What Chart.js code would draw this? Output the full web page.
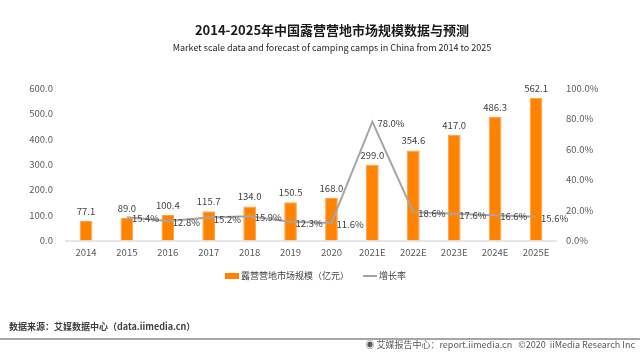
<!DOCTYPE html>
<html>
<head>
<meta charset="utf-8">
<script src="https://cdn.jsdelivr.net/npm/chart.js@4"></script>
<style>
  html,body{margin:0;padding:0;background:#fff;}
  #wrap{position:relative;width:640px;height:353px;overflow:hidden;font-family:"Noto Sans CJK SC","Noto Sans",sans-serif;}
  #c{position:absolute;left:0;top:0;}
  #legend{position:absolute;left:0;top:268px;width:640px;height:16px;font-size:9px;color:#404040;}
  .lg{position:absolute;top:0;line-height:16px;white-space:nowrap;}
  .sw{position:absolute;}
  #src{position:absolute;left:9px;top:320px;font-size:9px;color:#404040;font-weight:bold;white-space:nowrap;}
  #rule{position:absolute;left:0;top:338px;width:640px;height:2px;background:#a6a6a6;}
  #foot{position:absolute;right:5px;top:338px;font-size:9px;color:#595959;white-space:nowrap;}
</style>
</head>
<body>
<div id="wrap">
  <canvas id="c" width="640" height="353"></canvas>
  <div id="legend">
    <div class="sw" style="left:225px;top:5px;width:14px;height:6px;background:#FF8200;"></div>
    <div class="lg" id="lg0" style="left:241px;"></div>
    <div class="sw" style="left:363px;top:7px;width:14px;height:2px;background:#A5A5A5;"></div>
    <div class="lg" id="lg1" style="left:379px;"></div>
  </div>
  <div id="src">数据来源：艾媒数据中心（data.iimedia.cn）</div>
  <div id="rule"></div>
  <div id="foot">&#9673; 艾媒报告中心：report.iimedia.cn &nbsp;&nbsp;©2020 &nbsp;iiMedia Research Inc</div>
</div>
<script>
const categories = ["2014","2015","2016","2017","2018","2019","2020","2021E","2022E","2023E","2024E","2025E"];
const marketSize = [77.1, 89.0, 100.4, 115.7, 134.0, 150.5, 168.0, 299.0, 354.6, 417.0, 486.3, 562.1];
const growthRate = [null, 15.4, 12.8, 15.2, 15.9, 12.3, 11.6, 78.0, 18.6, 17.6, 16.6, 15.6];
const leftTicks = [0, 100, 200, 300, 400, 500, 600];
const rightTicks = [0, 20, 40, 60, 80, 100];
const seriesNames = ["露营营地市场规模（亿元）", "增长率"];

document.getElementById('lg0').textContent = seriesNames[0];
document.getElementById('lg1').textContent = seriesNames[1];

const FONT = '"Noto Sans CJK SC","Noto Sans",sans-serif';

const labelPlugin = {
  id: 'valueLabels',
  afterDatasetsDraw(chart) {
    const ctx = chart.ctx;
    ctx.save();
    ctx.font = '9.5px ' + FONT;
    ctx.fillStyle = '#404040';
    const barMeta = chart.getDatasetMeta(0);
    ctx.textAlign = 'center';
    ctx.textBaseline = 'bottom';
    barMeta.data.forEach((el, i) => {
      ctx.fillText(marketSize[i].toFixed(1), el.x, el.y - 5);
    });
    const lineMeta = chart.getDatasetMeta(1);
    ctx.textAlign = 'left';
    ctx.textBaseline = 'middle';
    lineMeta.data.forEach((el, i) => {
      if (growthRate[i] == null) return;
      ctx.fillText(growthRate[i].toFixed(1) + '%', el.x + 5, el.y + 1.5);
    });
    ctx.restore();
  }
};

new Chart(document.getElementById('c'), {
  data: {
    labels: categories,
    datasets: [
      {
        type: 'bar',
        label: seriesNames[0],
        data: marketSize,
        backgroundColor: '#FF8200',
        borderColor: '#FFA040',
        borderWidth: {top:1,left:1,right:1,bottom:0},
        categoryPercentage: 1,
        barPercentage: 0.31,
        yAxisID: 'y',
        order: 2
      },
      {
        type: 'line',
        label: seriesNames[1],
        data: growthRate,
        borderColor: '#A5A5A5',
        backgroundColor: '#A5A5A5',
        borderWidth: 2,
        pointRadius: 0,
        tension: 0,
        yAxisID: 'y1',
        order: 1
      }
    ]
  },
  options: {
    responsive: false,
    animation: false,
    devicePixelRatio: 1,
    layout: { padding: { top: 22, left: 24, right: 0, bottom: 89 } },
    plugins: {
      title: {
        display: true,
        text: '2014-2025年中国露营营地市场规模数据与预测',
        color: '#1a1a1a',
        font: { family: FONT, size: 13, weight: 'bold' },
        padding: { top: 0, bottom: 4.8 }
      },
      subtitle: {
        display: true,
        text: 'Market scale data and forecast of camping camps in China from 2014 to 2025',
        color: '#262626',
        font: { family: FONT, size: 9 },
        padding: { top: 0, bottom: 35 }
      },
      legend: { display: false },
      tooltip: { enabled: false }
    },
    scales: {
      x: {
        offset: true,
        grid: { display: false, drawTicks: false },
        border: { display: true, color: '#E6E6E6', width: 2 },
        ticks: { color: '#595959', font: { family: FONT, size: 9.5 }, padding: 6, maxRotation: 0, autoSkip: false }
      },
      y: {
        position: 'left',
        min: 0, max: 600,
        afterBuildTicks(scale) { scale.ticks = leftTicks.map(v => ({ value: v })); },
        afterFit(scale) { scale.width = 41.5; },
        grid: { display: false, drawTicks: false },
        border: { display: false },
        ticks: { color: '#595959', font: { family: FONT, size: 9.5 }, padding: 12.5, callback: v => Number(v).toFixed(1) }
      },
      y1: {
        position: 'right',
        min: 0, max: 100,
        afterBuildTicks(scale) { scale.ticks = rightTicks.map(v => ({ value: v })); },
        afterFit(scale) { scale.width = 83.5; },
        grid: { display: false, drawTicks: false },
        border: { display: false },
        ticks: { color: '#595959', font: { family: FONT, size: 9.5 }, padding: 9.5, callback: v => Number(v).toFixed(1) + '%' }
      }
    }
  },
  plugins: [labelPlugin]
});
</script>
</body>
</html>
